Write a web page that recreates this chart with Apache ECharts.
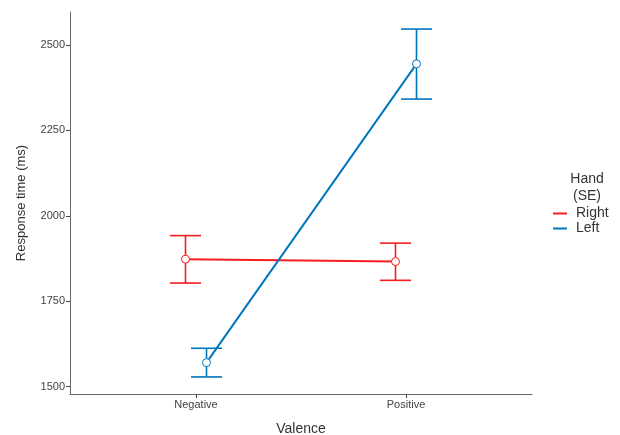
<!DOCTYPE html>
<html><head><meta charset="utf-8">
<script src="https://cdn.jsdelivr.net/npm/echarts@6/dist/echarts.min.js"></script>
<style>html,body{margin:0;padding:0;background:#fff}#c{width:620px;height:435px}</style>
</head><body><div id="c"></div>
<script>
const categories = ['Negative', 'Positive'];
const hands = ['Right', 'Left'];
const rightMean = [1873, 1866];
const rightLow = [1803, 1811];
const rightHigh = [1942, 1920];
const leftMean = [1570, 2445];
const leftLow = [1528, 2342];
const leftHigh = [1612, 2547];
const yTicks = [1500, 1750, 2000, 2250, 2500];

const RED = '#F51C20', BLUE = '#0076BC';
const dodge = 0.05;
const FONT = '"Liberation Sans", Arial, sans-serif';

function pts(mean, off) { return mean.map((v, i) => [i + 1 + off, v]); }
function errs(lo, hi, off) { return lo.map((v, i) => [i + 1 + off, v, hi[i]]); }

function errRender(color) {
  return function (params, api) {
    const x = api.value(0);
    const lo = api.coord([x, api.value(1)]);
    const hi = api.coord([x, api.value(2)]);
    const w = 15.5;
    const st = { stroke: color, lineWidth: 1.6 };
    return { type: 'group', children: [
      { type: 'line', shape: { x1: lo[0], y1: lo[1], x2: hi[0], y2: hi[1] }, style: st },
      { type: 'line', shape: { x1: lo[0] - w, y1: lo[1], x2: lo[0] + w, y2: lo[1] }, style: st },
      { type: 'line', shape: { x1: hi[0] - w, y1: hi[1], x2: hi[0] + w, y2: hi[1] }, style: st }
    ]};
  };
}

const chart = echarts.init(document.getElementById('c'), null, { renderer: 'canvas' });
chart.setOption({
  animation: false,
  textStyle: { fontFamily: FONT },
  grid: { left: 70, top: 12, width: 462, height: 382, containLabel: false, outerBoundsMode: 'none' },
  title: {
    text: 'Hand\n(SE)', left: 582, top: 166, textAlign: 'center',
    textStyle: { fontFamily: FONT, fontSize: 14, fontWeight: 'normal', color: '#333', lineHeight: 17 }
  },
  legend: {
    orient: 'vertical', left: 553, top: 206, padding: 0, itemWidth: 14, itemHeight: 2, itemGap: 0,
    textStyle: { fontFamily: FONT, fontSize: 14, color: '#333', lineHeight: 15, padding: [0, 0, 0, 4] },
    data: [
      { name: hands[0], icon: 'rect', itemStyle: { color: RED, borderWidth: 0 } },
      { name: hands[1], icon: 'rect', itemStyle: { color: BLUE, borderWidth: 0 } }
    ]
  },
  xAxis: {
    type: 'value', min: 0.4, max: 2.6,
    name: 'Valence', nameLocation: 'middle', nameGap: 28,
    nameTextStyle: { fontFamily: FONT, fontSize: 14, color: '#333' },
    axisLine: { show: true, lineStyle: { color: '#666', width: 1 } },
    axisTick: { show: true, length: 4, lineStyle: { color: '#444' }, customValues: [1, 2] },
    axisLabel: { fontFamily: FONT, fontSize: 11, color: '#444', margin: 5, customValues: [1, 2],
      formatter: v => categories[Math.round(v) - 1] || '' },
    splitLine: { show: false }
  },
  yAxis: {
    type: 'value', min: 1478, max: 2597,
    name: 'Response time (ms)', nameLocation: 'middle', nameGap: 42,
    nameTextStyle: { fontFamily: FONT, fontSize: 13, color: '#333' },
    axisLine: { show: true, lineStyle: { color: '#666', width: 1 } },
    axisTick: { show: true, length: 4, lineStyle: { color: '#444' }, customValues: yTicks },
    axisLabel: { fontFamily: FONT, fontSize: 11, color: '#444', margin: 5, customValues: yTicks,
      formatter: v => String(v) },
    splitLine: { show: false }
  },
  series: [
    { type: 'custom', name: 'errR', renderItem: errRender(RED), data: errs(rightLow, rightHigh, -dodge), z: 1, silent: true },
    { type: 'custom', name: 'errL', renderItem: errRender(BLUE), data: errs(leftLow, leftHigh, dodge), z: 1, silent: true },
    { type: 'line', name: hands[0], data: pts(rightMean, -dodge), z: 3,
      symbol: 'circle', symbolSize: 8, lineStyle: { color: RED, width: 2 },
      itemStyle: { color: '#fff', borderColor: RED, borderWidth: 1 } },
    { type: 'line', name: hands[1], data: pts(leftMean, dodge), z: 3,
      symbol: 'circle', symbolSize: 8, lineStyle: { color: BLUE, width: 2 },
      itemStyle: { color: '#fff', borderColor: BLUE, borderWidth: 1 } }
  ]
});
</script></body></html>
